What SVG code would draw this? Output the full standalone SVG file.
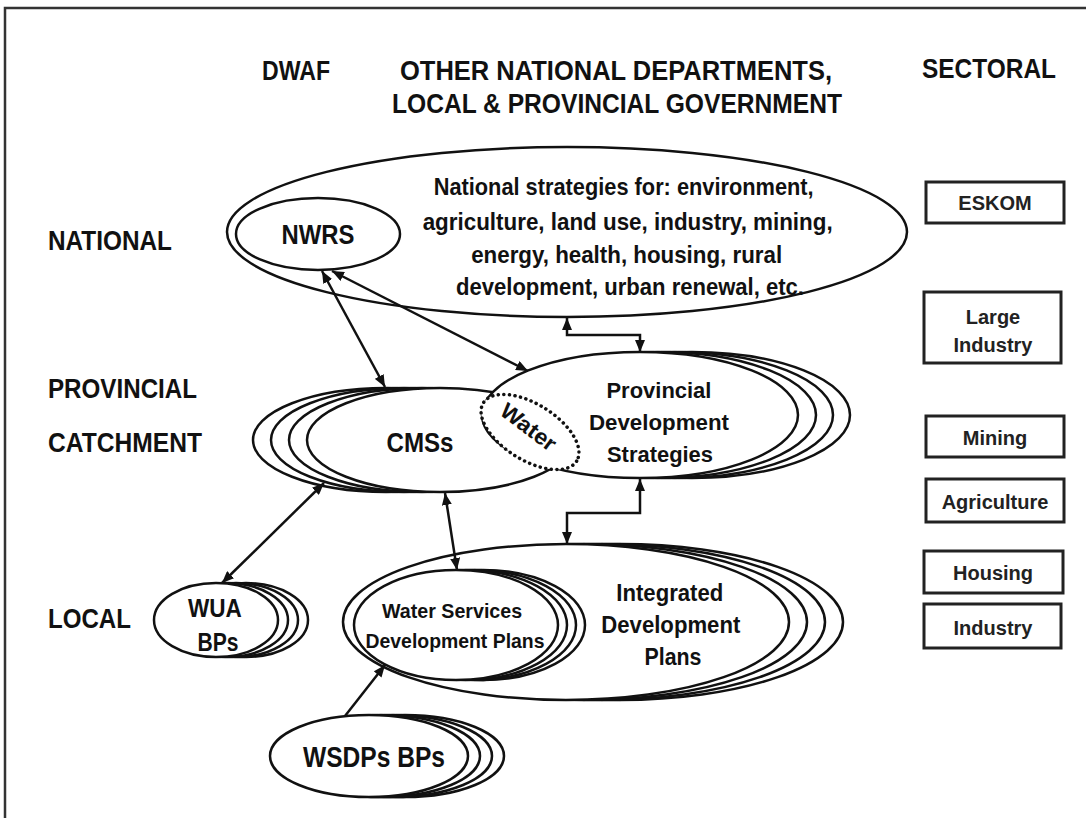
<svg xmlns="http://www.w3.org/2000/svg" width="1086" height="818" viewBox="0 0 1086 818">
<style>
.e{fill:#fff;stroke:#111;stroke-width:2.5}
.t{font-family:"Liberation Sans",Arial,sans-serif;font-weight:bold;fill:#111;text-anchor:middle}
.l{font-family:"Liberation Sans",Arial,sans-serif;font-weight:bold;fill:#111}
.c{fill:none;stroke:#111;stroke-width:2.5;marker-end:url(#ah)}
.d{marker-start:url(#ah)}
.box{fill:#fff;stroke:#222;stroke-width:3}
.bt{font-family:"Liberation Sans",Arial,sans-serif;font-weight:bold;fill:#222;text-anchor:middle;font-size:20px}
.dot{fill:#fff;stroke:#111;stroke-width:3.5;stroke-dasharray:0.1 5.5;stroke-linecap:round}
</style>
<defs>
<marker id="ah" markerUnits="userSpaceOnUse" markerWidth="12" markerHeight="10" refX="12" refY="5" orient="auto-start-reverse">
<path d="M0,0 L12,5 L0,10 z" fill="#111"/>
</marker>
</defs>
<rect width="1086" height="818" fill="#fff"/>
<path d="M5,818 V8 H1086" fill="none" stroke="#333" stroke-width="2.5"/>

<g id="headers">
<text class="l" x="262" y="80" font-size="27" textLength="68" lengthAdjust="spacingAndGlyphs">DWAF</text>
<text class="l" x="400" y="80" font-size="27" textLength="432" lengthAdjust="spacingAndGlyphs">OTHER NATIONAL DEPARTMENTS,</text>
<text class="l" x="392" y="113" font-size="27" textLength="450" lengthAdjust="spacingAndGlyphs">LOCAL &amp; PROVINCIAL GOVERNMENT</text>
<text class="l" x="922" y="78" font-size="27" textLength="134" lengthAdjust="spacingAndGlyphs">SECTORAL</text>
<text class="l" x="48" y="250" font-size="27" textLength="124" lengthAdjust="spacingAndGlyphs">NATIONAL</text>
<text class="l" x="48" y="398" font-size="27" textLength="149" lengthAdjust="spacingAndGlyphs">PROVINCIAL</text>
<text class="l" x="48" y="452" font-size="27" textLength="154" lengthAdjust="spacingAndGlyphs">CATCHMENT</text>
<text class="l" x="48" y="628" font-size="27" textLength="83" lengthAdjust="spacingAndGlyphs">LOCAL</text>
</g>

<g id="national">
<ellipse class="e" cx="567" cy="232" rx="340" ry="85"/>
<text class="t" font-size="24">
<tspan x="627" y="195" textLength="380" lengthAdjust="spacingAndGlyphs">National strategies for: environment,</tspan>
<tspan x="631" y="230" textLength="410" lengthAdjust="spacingAndGlyphs">agriculture, land use, industry, mining,</tspan>
<tspan x="630" y="263" textLength="311" lengthAdjust="spacingAndGlyphs">energy, health, housing, rural</tspan>
<tspan x="630" y="295" textLength="348" lengthAdjust="spacingAndGlyphs">development, urban renewal, etc.</tspan>
</text>
</g>

<g id="nwrs">
<ellipse class="e" cx="318" cy="234" rx="82" ry="36"/>
<text class="t" x="318" y="244" font-size="27" textLength="73" lengthAdjust="spacingAndGlyphs">NWRS</text>
</g>

<g id="cms">
<ellipse class="e" cx="386" cy="440" rx="133" ry="52"/>
<ellipse class="e" cx="404" cy="440" rx="133" ry="52"/>
<ellipse class="e" cx="422" cy="440" rx="133" ry="52"/>
<ellipse class="e" cx="440" cy="440" rx="133" ry="52"/>
<text class="t" x="420" y="452" font-size="27" textLength="67" lengthAdjust="spacingAndGlyphs">CMSs</text>
</g>

<g id="pds">
<ellipse class="e" cx="692" cy="415" rx="158" ry="63"/>
<ellipse class="e" cx="675" cy="415" rx="158" ry="63"/>
<ellipse class="e" cx="658" cy="415" rx="158" ry="63"/>
<ellipse class="e" cx="640" cy="415" rx="158" ry="63"/>
<text class="t" font-size="22">
<tspan x="662" y="398" textLength="105" lengthAdjust="spacingAndGlyphs">Provincial</tspan>
<tspan x="662" y="430" textLength="140" lengthAdjust="spacingAndGlyphs">Development</tspan>
<tspan x="660" y="462" textLength="106" lengthAdjust="spacingAndGlyphs">Strategies</tspan>
</text>
</g>

<g id="water">
<ellipse class="dot" cx="530" cy="432" rx="55" ry="28" transform="rotate(32 530 432)"/>
<text class="t" x="0" y="0" font-size="22" textLength="64" lengthAdjust="spacingAndGlyphs" transform="translate(524 433) rotate(37)">Water</text>
</g>

<g id="idp">
<ellipse class="e" cx="620" cy="622" rx="223" ry="78"/>
<ellipse class="e" cx="602" cy="622" rx="223" ry="78"/>
<ellipse class="e" cx="584" cy="622" rx="223" ry="78"/>
<ellipse class="e" cx="566" cy="622" rx="223" ry="78"/>
<text class="t" font-size="23">
<tspan x="673" y="601" textLength="107" lengthAdjust="spacingAndGlyphs">Integrated</tspan>
<tspan x="674" y="633" textLength="139" lengthAdjust="spacingAndGlyphs">Development</tspan>
<tspan x="673" y="665" textLength="57" lengthAdjust="spacingAndGlyphs">Plans</tspan>
</text>
</g>

<g id="wsdp">
<ellipse class="e" cx="483" cy="625" rx="102" ry="55"/>
<ellipse class="e" cx="474" cy="625" rx="102" ry="55"/>
<ellipse class="e" cx="465" cy="625" rx="102" ry="55"/>
<ellipse class="e" cx="456" cy="625" rx="102" ry="55"/>
<text class="t" font-size="21">
<tspan x="455" y="618" textLength="140" lengthAdjust="spacingAndGlyphs">Water Services</tspan>
<tspan x="455" y="648" textLength="179" lengthAdjust="spacingAndGlyphs">Development Plans</tspan>
</text>
</g>

<g id="wua">
<ellipse class="e" cx="246" cy="620" rx="62" ry="37"/>
<ellipse class="e" cx="236" cy="620" rx="62" ry="37"/>
<ellipse class="e" cx="226" cy="620" rx="62" ry="37"/>
<ellipse class="e" cx="216" cy="620" rx="62" ry="37"/>
<text class="t" font-size="25">
<tspan x="218" y="617" textLength="53" lengthAdjust="spacingAndGlyphs">WUA</tspan>
<tspan x="218" y="651" textLength="41" lengthAdjust="spacingAndGlyphs">BPs</tspan>
</text>
</g>

<g id="wsdps">
<ellipse class="e" cx="405" cy="756" rx="99" ry="41"/>
<ellipse class="e" cx="393" cy="756" rx="99" ry="41"/>
<ellipse class="e" cx="381" cy="756" rx="99" ry="41"/>
<ellipse class="e" cx="369" cy="756" rx="99" ry="41"/>
<text class="t" x="374" y="767" font-size="29" textLength="142" lengthAdjust="spacingAndGlyphs">WSDPs BPs</text>
</g>

<g id="eskom"><rect class="box" x="926" y="182" width="138" height="41"/><text class="bt" x="995" y="210">ESKOM</text></g>
<g id="large-industry"><rect class="box" x="924" y="292" width="137" height="71"/><text class="bt" x="993" y="324">Large</text><text class="bt" x="993" y="352">Industry</text></g>
<g id="mining"><rect class="box" x="926" y="416" width="138" height="41"/><text class="bt" x="995" y="445">Mining</text></g>
<g id="agriculture"><rect class="box" x="926" y="479" width="138" height="43"/><text class="bt" x="995" y="509">Agriculture</text></g>
<g id="housing"><rect class="box" x="924" y="551" width="139" height="42"/><text class="bt" x="993" y="580">Housing</text></g>
<g id="industry"><rect class="box" x="924" y="604" width="137" height="44"/><text class="bt" x="993" y="635">Industry</text></g>

<g id="connectors">
<path class="c d" d="M322,271 L385,387"/>
<path class="c d" d="M332,271 L528,371"/>
<path class="c d" d="M567,318 V335 H640 V352"/>
<path class="c d" d="M640,479 V513 H567 V544"/>
<path class="c d" d="M324,483 L222,583"/>
<path class="c d" d="M445,493 L457,570"/>
<path class="c" d="M345,716 L385,665"/>
</g>
</svg>
